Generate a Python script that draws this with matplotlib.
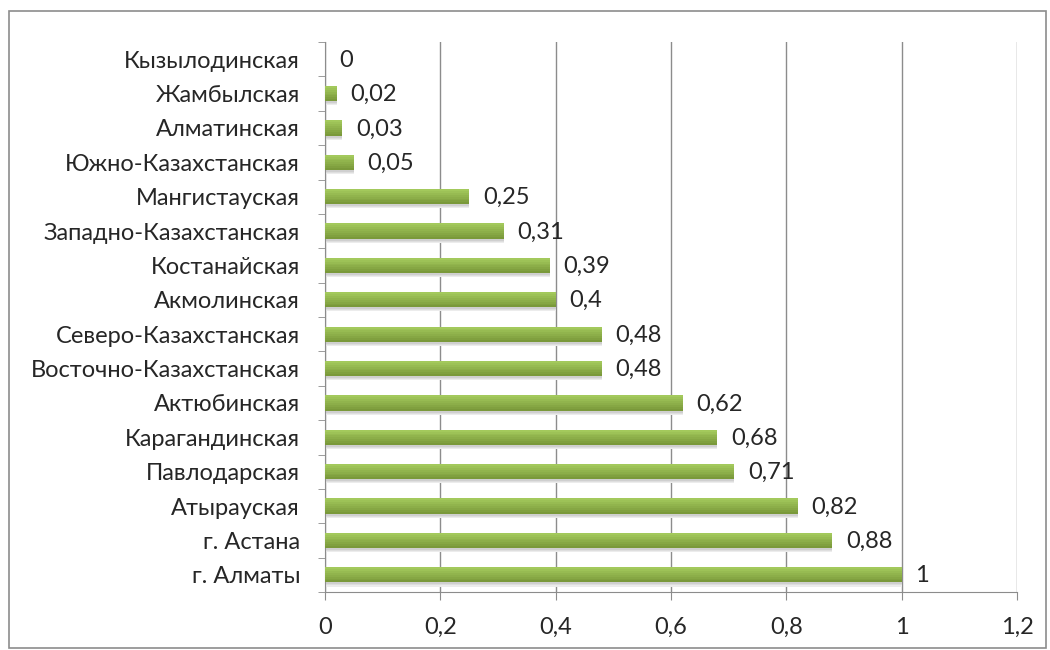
import numpy as np
import matplotlib.pyplot as plt
from matplotlib.patches import Rectangle
from matplotlib.colors import to_rgb

plt.rcParams['font.family'] = ['Lato', 'DejaVu Sans']

regions = ['г. Алматы', 'г. Астана', 'Атырауская', 'Павлодарская', 'Карагандинская',
           'Актюбинская', 'Восточно-Казахстанская', 'Северо-Казахстанская', 'Акмолинская',
           'Костанайская', 'Западно-Казахстанская', 'Мангистауская', 'Южно-Казахстанская',
           'Алматинская', 'Жамбылская', 'Кызылодинская']
values = [1, 0.88, 0.82, 0.71, 0.68, 0.62, 0.48, 0.48, 0.4, 0.39, 0.31, 0.25, 0.05, 0.03, 0.02, 0]
value_labels = ['1', '0,88', '0,82', '0,71', '0,68', '0,62', '0,48', '0,48', '0,4', '0,39',
                '0,31', '0,25', '0,05', '0,03', '0,02', '0']
xticks = [0, 0.2, 0.4, 0.6, 0.8, 1, 1.2]
xtick_labels = ['0', '0,2', '0,4', '0,6', '0,8', '1', '1,2']

txt = '#262626'
fig = plt.figure(figsize=(10.5, 6.5), dpi=100)
fig.patches.append(Rectangle((9 / 1050, 2 / 650), 1037 / 1050, 637 / 650, transform=fig.transFigure,
                             fill=False, edgecolor='#8c8c8c', linewidth=1.2))
ax = fig.add_axes([325 / 1050, 58 / 650, 692 / 1050, 550 / 650])

y = np.arange(len(regions))
h = 0.44
# soft shadow under bars
for k, c in enumerate(['#ececec', '#dedede', '#cfcfcf']):
    ax.barh(y - 0.06 - 0.03 * (2 - k), values, height=h, color=c, zorder=2)
# vertical gradient: dark bottom -> light top
n = 8
c_bot = np.array(to_rgb('#7a993a'))
c_top = np.array(to_rgb('#a3c95c'))
for i in range(n):
    t = i / (n - 1)
    col = c_bot * (1 - t) + c_top * t
    ax.barh(y - h / 2 + i * h / n, values, height=h / n * 1.05, align='edge', color=col,
            linewidth=0, zorder=3)

for yi, v, lab in zip(y, values, value_labels):
    ax.text(v + 0.024, yi - 0.03, lab, va='center', ha='left', fontsize=17, color=txt)

ax.set_xlim(0, 1.2)
ax.set_ylim(-0.5, len(regions) - 0.5)
ax.set_xticks(xticks)
ax.set_xticklabels(xtick_labels, fontsize=17, color=txt)
ax.set_yticks(y)
ax.set_yticklabels(regions, fontsize=17, color=txt)
ax.tick_params(axis='y', length=0, pad=18)
ax.set_yticks(np.arange(-0.5, len(regions), 1), minor=True)
ax.tick_params(axis='y', which='minor', length=5, color='#8c8c8c')
ax.tick_params(axis='x', length=6, color='#8c8c8c', pad=12)
ax.grid(axis='x', color='#8c8c8c', linewidth=1, zorder=0)
ax.set_axisbelow(True)
for s in ['top', 'right']:
    ax.spines[s].set_visible(False)
for s in ['left', 'bottom']:
    ax.spines[s].set_color('#8c8c8c')

fig.savefig('out.png', dpi=100)
